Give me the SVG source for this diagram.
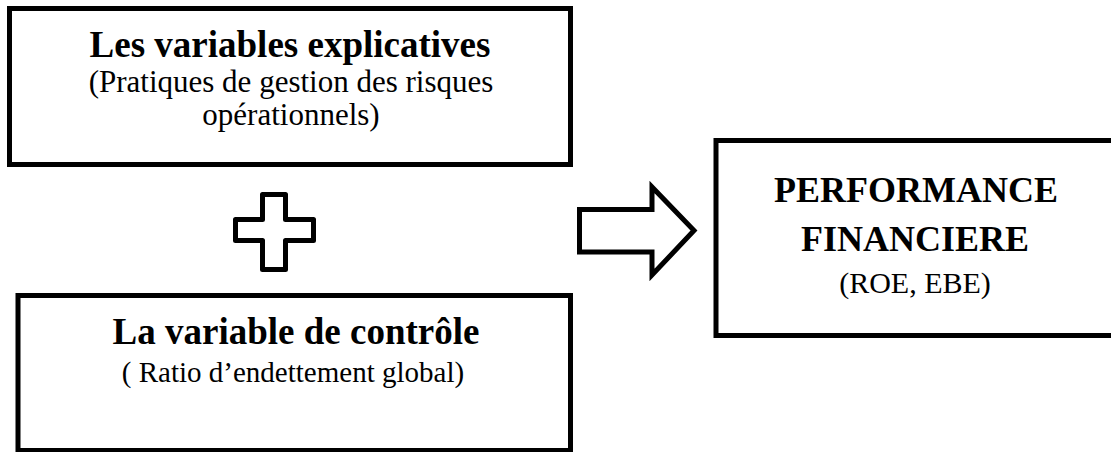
<svg xmlns="http://www.w3.org/2000/svg" width="1111" height="452" viewBox="0 0 1111 452">
<style>
.box{fill:#fff;stroke:#000;stroke-width:5}
.shape{fill:#fff;stroke:#000;stroke-width:5;stroke-linejoin:miter}
text{font-family:'Liberation Serif','Times New Roman',Times,serif;fill:#000;text-anchor:middle}
.b{font-weight:bold;font-size:37px}
.b2{font-weight:bold;font-size:36px}
.r{font-size:31px}
.r2{font-size:29px}
.r3{font-size:30px}
</style>
<rect width="1111" height="452" fill="#fff"/>
<g id="node-explicatives">
<rect class="box" x="9.5" y="8.5" width="561" height="156"/>
<text class="b" x="290" y="57">Les variables explicatives</text>
<text class="r" x="291" y="92">(Pratiques de gestion des risques</text>
<text class="r" x="291" y="125">opérationnels)</text>
</g>
<g id="node-controle">
<rect class="box" x="18" y="295.5" width="552.5" height="155"/>
<text class="b" x="296" y="344">La variable de contrôle</text>
<text class="r2" x="293" y="382">( Ratio d’endettement global)</text>
</g>
<g id="node-performance">
<rect class="box" x="716" y="140.5" width="400" height="195"/>
<text class="b2" x="916" y="202">PERFORMANCE</text>
<text class="b2" x="915" y="251">FINANCIERE</text>
<text class="r3" x="915" y="293">(ROE, EBE)</text>
</g>
<g id="node-plus">
<path class="shape" style="stroke-linejoin:round" d="M262.5,194.5 H285.5 V219.5 H313.5 V240.5 H285.5 V269.5 H262.5 V240.5 H235.5 V219.5 H262.5 Z"/>
</g>
<g id="connectors">
<path class="shape" d="M579.5,209.5 H652 V187 L694,230.5 L652,275 V252 H579.5 Z"/>
</g>
</svg>
